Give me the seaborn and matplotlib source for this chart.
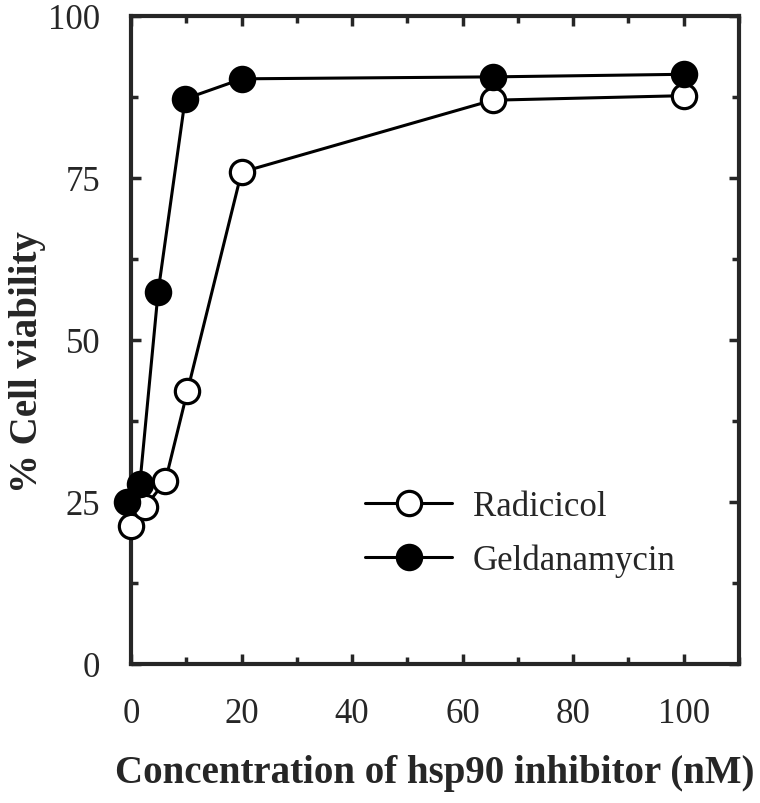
import matplotlib
matplotlib.use("Agg")
import matplotlib.pyplot as plt
from matplotlib.ticker import MultipleLocator
import seaborn as sns
import pandas as pd

# values
radicicol_conc = [0, 2.5, 6.2, 10.2, 20, 65.4, 100]
radicicol_viability = [21.3, 24.2, 28.2, 42.1, 75.9, 87.0, 87.7]
geldanamycin_conc = [-0.7, 1.6, 4.9, 9.8, 20.1, 65.4, 100]
geldanamycin_viability = [25.0, 27.8, 57.4, 87.2, 90.3, 90.6, 91.0]

x_ticks = [0, 20, 40, 60, 80, 100]
y_ticks = [0, 25, 50, 75, 100]

sns.set_style("ticks")
plt.rcParams["font.family"] = ["Liberation Serif", "DejaVu Serif"]

df = pd.concat([
    pd.DataFrame({"conc": radicicol_conc, "viability": radicicol_viability, "drug": "Radicicol"}),
    pd.DataFrame({"conc": geldanamycin_conc, "viability": geldanamycin_viability, "drug": "Geldanamycin"}),
])

fig = plt.figure(figsize=(7.6, 8.04), dpi=100)
ax = fig.add_axes([0.1724, 0.1729, 0.8, 0.806])

styles = {"Radicicol": "white", "Geldanamycin": "black"}
for drug, face in styles.items():
    sub = df[df["drug"] == drug]
    sns.lineplot(data=sub, x="conc", y="viability", ax=ax, color="black", lw=2.2,
                 marker="o", markersize=17.5, markerfacecolor=face, markeredgecolor="black",
                 markeredgewidth=2.3, label=drug, sort=False, clip_on=False, zorder=3)

ax.set_xlim(0, 110)
ax.set_ylim(0, 100)
ax.set_xticks(x_ticks)
ax.set_yticks(y_ticks)
ax.xaxis.set_minor_locator(MultipleLocator(10))
ax.yaxis.set_minor_locator(MultipleLocator(12.5))
ax.tick_params(which="both", direction="in", top=True, right=True, width=2.5, labelsize=25)
ax.tick_params(axis="x", which="both", pad=24)
ax.tick_params(axis="y", which="both", pad=22)
ax.tick_params(which="major", length=7)
ax.tick_params(which="minor", length=5)
for s in ax.spines.values():
    s.set_linewidth(3)

ax.set_xlabel("Concentration of hsp90 inhibitor (nM)", fontsize=28, fontweight="bold", labelpad=17)
ax.set_ylabel("% Cell viability", fontsize=28, fontweight="bold")
ax.yaxis.set_label_coords(-0.14, 0.468)

ax.legend(loc="upper left", bbox_to_anchor=(0.334, 0.317), frameon=False, fontsize=25,
          handlelength=2.5, handletextpad=0.6, labelspacing=0.6)

fig.savefig("out.png", dpi=100)
